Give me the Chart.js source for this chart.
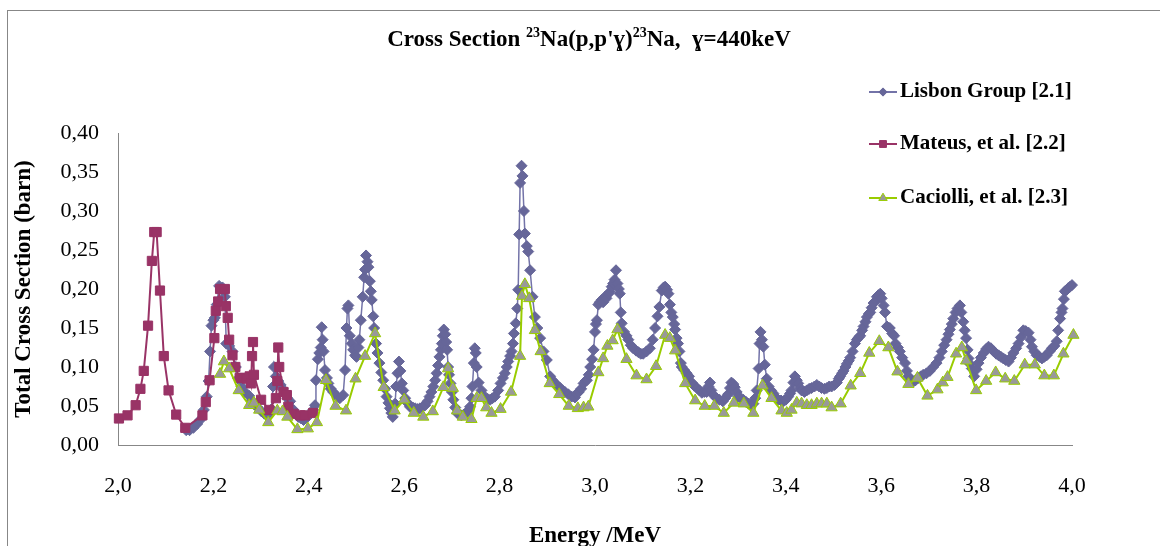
<!DOCTYPE html>
<html>
<head>
<meta charset="utf-8">
<script src="https://cdn.jsdelivr.net/npm/chart.js@4/dist/chart.umd.min.js"></script>
<style>
  html, body { margin: 0; padding: 0; background: #fff; overflow: hidden; }
  #wrap { position: relative; width: 1160px; height: 546px; overflow: hidden; }
  #frame { position: absolute; left: 7px; top: 10px; width: 1200px; height: 600px; border: 1px solid #878787; pointer-events: none; }
  canvas { position: absolute; left: 0; top: 0; }
</style>
</head>
<body>
<div id="wrap">
  <canvas id="myChart" width="1160" height="546"></canvas>
  <div id="frame"></div>
</div>
<script>
// energy (MeV), cross section (barn)
const lisbon = [
  [2.143,0.019],[2.150,0.019],[2.158,0.022],[2.166,0.027],[2.172,0.032],[2.180,0.045],[2.186,0.062],
  [2.190,0.082],[2.193,0.120],[2.196,0.153],[2.200,0.160],[2.203,0.163],[2.207,0.180],[2.212,0.204],
  [2.216,0.200],[2.219,0.202],[2.224,0.190],[2.227,0.130],[2.233,0.127],[2.240,0.120],[2.247,0.100],
  [2.252,0.085],[2.259,0.075],[2.266,0.068],[2.275,0.063],[2.280,0.057],[2.286,0.052],[2.291,0.049],
  [2.301,0.043],[2.307,0.040],[2.312,0.038],[2.318,0.042],[2.322,0.046],[2.325,0.075],[2.327,0.100],
  [2.331,0.088],[2.336,0.082],[2.341,0.077],[2.345,0.072],[2.350,0.066],[2.355,0.060],[2.361,0.056],
  [2.368,0.045],[2.373,0.040],[2.378,0.036],[2.384,0.034],[2.389,0.032],[2.393,0.034],[2.397,0.036],
  [2.403,0.040],[2.409,0.045],[2.413,0.051],[2.415,0.083],[2.419,0.110],[2.422,0.118],[2.425,0.125],
  [2.427,0.151],[2.429,0.135],[2.431,0.120],[2.434,0.096],[2.438,0.086],[2.441,0.079],[2.446,0.072],
  [2.451,0.068],[2.458,0.063],[2.465,0.060],[2.472,0.064],[2.476,0.096],[2.479,0.150],[2.481,0.175],
  [2.483,0.179],[2.486,0.140],[2.490,0.130],[2.493,0.122],[2.497,0.115],[2.500,0.113],[2.504,0.125],
  [2.506,0.135],[2.509,0.160],[2.513,0.190],[2.516,0.215],[2.518,0.225],[2.520,0.243],[2.523,0.235],
  [2.525,0.228],[2.528,0.210],[2.530,0.197],[2.532,0.186],[2.535,0.165],[2.537,0.150],[2.541,0.130],
  [2.544,0.118],[2.548,0.105],[2.552,0.093],[2.556,0.083],[2.560,0.072],[2.563,0.062],[2.567,0.054],
  [2.570,0.047],[2.573,0.041],[2.576,0.036],[2.581,0.053],[2.583,0.075],[2.586,0.092],[2.589,0.107],
  [2.592,0.095],[2.595,0.079],[2.598,0.070],[2.602,0.060],[2.607,0.054],[2.612,0.049],[2.618,0.048],
  [2.623,0.047],[2.628,0.046],[2.633,0.047],[2.639,0.049],[2.644,0.051],[2.649,0.056],[2.653,0.062],
  [2.657,0.068],[2.661,0.075],[2.665,0.083],[2.668,0.092],[2.671,0.102],[2.674,0.113],[2.677,0.122],
  [2.679,0.130],[2.681,0.140],[2.683,0.148],[2.686,0.142],[2.688,0.132],[2.690,0.122],[2.692,0.100],
  [2.694,0.090],[2.697,0.079],[2.700,0.068],[2.703,0.058],[2.707,0.048],[2.711,0.041],[2.716,0.039],
  [2.720,0.038],[2.725,0.039],[2.730,0.041],[2.734,0.044],[2.738,0.049],[2.741,0.060],[2.743,0.075],
  [2.746,0.105],[2.748,0.124],[2.750,0.118],[2.752,0.100],[2.756,0.080],[2.762,0.070],[2.769,0.062],
  [2.775,0.059],[2.780,0.058],[2.785,0.060],[2.790,0.062],[2.797,0.070],[2.802,0.079],[2.807,0.086],
  [2.811,0.092],[2.815,0.100],[2.818,0.107],[2.822,0.114],[2.825,0.120],[2.828,0.130],[2.830,0.143],
  [2.834,0.156],[2.837,0.175],[2.839,0.199],[2.841,0.270],[2.843,0.336],[2.846,0.358],[2.848,0.345],
  [2.851,0.300],[2.853,0.271],[2.857,0.255],[2.860,0.248],[2.864,0.224],[2.869,0.190],[2.874,0.164],
  [2.879,0.150],[2.885,0.137],[2.892,0.120],[2.899,0.109],[2.906,0.088],[2.911,0.083],[2.916,0.079],
  [2.922,0.076],[2.927,0.073],[2.932,0.070],[2.937,0.068],[2.944,0.065],[2.951,0.062],[2.958,0.061],
  [2.962,0.066],[2.966,0.068],[2.971,0.072],[2.976,0.079],[2.980,0.082],[2.983,0.083],[2.987,0.090],
  [2.990,0.100],[2.994,0.110],[2.997,0.122],[3.000,0.145],[3.002,0.155],[3.004,0.160],[3.007,0.180],
  [3.010,0.183],[3.014,0.186],[3.017,0.183],[3.021,0.190],[3.024,0.188],[3.028,0.194],[3.031,0.196],
  [3.035,0.203],[3.038,0.207],[3.041,0.212],[3.044,0.224],[3.047,0.207],[3.050,0.200],[3.052,0.194],
  [3.054,0.170],[3.056,0.156],[3.061,0.145],[3.066,0.140],[3.070,0.135],[3.075,0.128],[3.080,0.124],
  [3.086,0.121],[3.091,0.119],[3.096,0.117],[3.101,0.117],[3.108,0.120],[3.115,0.124],[3.121,0.135],
  [3.126,0.150],[3.131,0.165],[3.135,0.177],[3.140,0.198],[3.144,0.202],[3.147,0.203],[3.151,0.199],
  [3.154,0.194],[3.157,0.180],[3.160,0.170],[3.163,0.164],[3.166,0.155],[3.168,0.148],[3.171,0.137],
  [3.174,0.130],[3.177,0.120],[3.180,0.105],[3.182,0.100],[3.187,0.096],[3.192,0.092],[3.197,0.088],
  [3.203,0.080],[3.208,0.076],[3.214,0.073],[3.219,0.070],[3.224,0.067],[3.229,0.068],[3.234,0.068],
  [3.238,0.075],[3.241,0.080],[3.244,0.070],[3.248,0.064],[3.255,0.060],[3.261,0.058],[3.268,0.056],
  [3.273,0.060],[3.279,0.065],[3.283,0.073],[3.286,0.080],[3.290,0.078],[3.293,0.074],[3.297,0.068],
  [3.300,0.062],[3.306,0.060],[3.311,0.058],[3.317,0.055],[3.322,0.053],[3.327,0.052],[3.332,0.053],
  [3.336,0.060],[3.339,0.070],[3.343,0.098],[3.345,0.130],[3.347,0.145],[3.350,0.135],[3.353,0.126],
  [3.356,0.103],[3.360,0.085],[3.364,0.075],[3.369,0.070],[3.374,0.066],[3.379,0.061],[3.384,0.058],
  [3.390,0.057],[3.395,0.056],[3.400,0.058],[3.405,0.062],[3.409,0.066],[3.412,0.070],[3.416,0.080],
  [3.419,0.088],[3.423,0.083],[3.426,0.079],[3.430,0.073],[3.433,0.070],[3.439,0.068],[3.444,0.070],
  [3.449,0.072],[3.454,0.073],[3.460,0.075],[3.465,0.077],[3.470,0.075],[3.475,0.073],[3.481,0.072],
  [3.486,0.073],[3.491,0.075],[3.496,0.075],[3.502,0.077],[3.507,0.080],[3.511,0.085],[3.514,0.088],
  [3.518,0.092],[3.521,0.095],[3.525,0.100],[3.528,0.104],[3.532,0.108],[3.535,0.112],[3.540,0.120],
  [3.545,0.130],[3.549,0.135],[3.553,0.138],[3.556,0.140],[3.560,0.147],[3.563,0.152],[3.567,0.158],
  [3.570,0.164],[3.574,0.168],[3.577,0.170],[3.580,0.176],[3.584,0.182],[3.587,0.184],[3.591,0.190],
  [3.594,0.192],[3.598,0.194],[3.601,0.188],[3.605,0.179],[3.608,0.170],[3.612,0.152],[3.618,0.150],
  [3.623,0.143],[3.627,0.140],[3.630,0.130],[3.635,0.125],[3.639,0.120],[3.644,0.112],[3.650,0.105],
  [3.654,0.095],[3.657,0.088],[3.662,0.084],[3.667,0.081],[3.672,0.083],[3.678,0.086],[3.683,0.088],
  [3.688,0.090],[3.695,0.092],[3.702,0.095],[3.709,0.100],[3.716,0.105],[3.722,0.112],[3.727,0.120],
  [3.732,0.128],[3.737,0.135],[3.741,0.142],[3.744,0.148],[3.748,0.155],[3.751,0.162],[3.756,0.170],
  [3.760,0.175],[3.765,0.179],[3.768,0.170],[3.772,0.158],[3.775,0.147],[3.778,0.137],[3.781,0.122],
  [3.783,0.111],[3.786,0.104],[3.790,0.098],[3.795,0.088],[3.800,0.097],[3.804,0.105],[3.809,0.112],
  [3.815,0.118],[3.820,0.123],[3.825,0.126],[3.830,0.124],[3.836,0.120],[3.841,0.117],[3.846,0.115],
  [3.851,0.113],[3.856,0.111],[3.861,0.109],[3.867,0.107],[3.872,0.112],[3.877,0.118],[3.883,0.124],
  [3.888,0.130],[3.893,0.138],[3.898,0.147],[3.903,0.146],[3.909,0.144],[3.913,0.135],[3.916,0.126],
  [3.921,0.120],[3.926,0.115],[3.932,0.113],[3.937,0.111],[3.942,0.113],[3.947,0.115],[3.953,0.120],
  [3.958,0.124],[3.963,0.127],[3.968,0.133],[3.971,0.147],[3.975,0.162],[3.978,0.170],[3.980,0.175],
  [3.983,0.187],[3.985,0.197],[3.989,0.199],[3.992,0.201],[3.996,0.203],[4.000,0.205],[4.008,0.207]
];

const mateus = [
  [2.002,0.034],[2.020,0.038],[2.037,0.051],[2.047,0.072],[2.054,0.095],[2.063,0.153],[2.071,0.236],
  [2.076,0.273],[2.081,0.273],[2.088,0.198],[2.096,0.114],[2.106,0.070],[2.122,0.039],[2.141,0.022],
  [2.177,0.038],[2.184,0.055],[2.192,0.083],[2.202,0.137],[2.205,0.172],[2.210,0.184],[2.214,0.200],
  [2.224,0.200],[2.226,0.178],[2.230,0.163],[2.233,0.135],[2.240,0.115],[2.246,0.100],[2.255,0.086],
  [2.263,0.086],[2.270,0.085],[2.276,0.088],[2.279,0.079],[2.281,0.114],[2.283,0.132],[2.285,0.090],
  [2.300,0.058],[2.317,0.045],[2.331,0.060],[2.334,0.082],[2.336,0.125],[2.338,0.100],[2.347,0.068],
  [2.354,0.064],[2.357,0.049],[2.368,0.040],[2.382,0.038],[2.392,0.038],[2.409,0.041]
];

const caciolli = [
  [2.214,0.091],[2.222,0.107],[2.233,0.098],[2.253,0.070],[2.275,0.051],[2.285,0.054],[2.296,0.045],
  [2.315,0.029],[2.334,0.044],[2.345,0.043],[2.355,0.036],[2.376,0.020],[2.398,0.021],[2.417,0.029],
  [2.436,0.083],[2.456,0.050],[2.478,0.044],[2.498,0.085],[2.518,0.114],[2.539,0.143],[2.557,0.074],
  [2.580,0.044],[2.600,0.058],[2.620,0.041],[2.640,0.036],[2.660,0.043],[2.682,0.074],[2.692,0.098],
  [2.702,0.073],[2.711,0.044],[2.723,0.036],[2.741,0.033],[2.752,0.060],[2.762,0.060],[2.772,0.048],
  [2.783,0.041],[2.802,0.046],[2.824,0.068],[2.843,0.114],[2.847,0.191],[2.853,0.206],[2.862,0.188],
  [2.874,0.147],[2.886,0.120],[2.905,0.079],[2.925,0.065],[2.945,0.050],[2.964,0.047],[2.976,0.048],
  [2.986,0.049],[3.007,0.093],[3.017,0.111],[3.026,0.127],[3.037,0.134],[3.047,0.148],[3.066,0.110],
  [3.087,0.089],[3.108,0.084],[3.128,0.101],[3.147,0.141],[3.157,0.137],[3.168,0.121],[3.189,0.079],
  [3.210,0.057],[3.230,0.050],[3.250,0.050],[3.270,0.041],[3.291,0.054],[3.312,0.053],[3.332,0.041],
  [3.351,0.076],[3.370,0.060],[3.391,0.044],[3.402,0.041],[3.412,0.045],[3.423,0.054],[3.433,0.053],
  [3.444,0.051],[3.454,0.051],[3.465,0.053],[3.475,0.053],[3.486,0.053],[3.496,0.048],[3.515,0.053],
  [3.536,0.076],[3.556,0.092],[3.575,0.118],[3.596,0.133],[3.615,0.125],[3.634,0.094],[3.657,0.078],
  [3.676,0.086],[3.697,0.063],[3.718,0.071],[3.729,0.080],[3.739,0.087],[3.757,0.117],[3.769,0.125],
  [3.778,0.108],[3.799,0.070],[3.820,0.082],[3.840,0.093],[3.860,0.085],[3.879,0.082],[3.901,0.103],
  [3.922,0.103],[3.942,0.089],[3.962,0.089],[3.982,0.117],[4.003,0.141],[4.013,0.146]
];

const seriesNames = ['Lisbon Group [2.1]', 'Mateus, et al. [2.2]', 'Caciolli, et al. [2.3]'];
const xTicks = [2.0, 2.2, 2.4, 2.6, 2.8, 3.0, 3.2, 3.4, 3.6, 3.8, 4.0];
const yTicks = [0, 0.05, 0.10, 0.15, 0.20, 0.25, 0.30, 0.35, 0.40];

const serif = "'Liberation Serif', 'Times New Roman', serif";
const toXY = arr => arr.map(p => ({ x: p[0], y: p[1] }));

// title with superscripts
const titlePlugin = {
  id: 'fancyTitle',
  afterDraw(chart) {
    const ctx = chart.ctx;
    const parts = [
      { t: 'Cross Section ', sup: false },
      { t: '23', sup: true },
      { t: "Na(p,p'\u0263)", sup: false },
      { t: '23', sup: true },
      { t: 'Na,  \u0263=440keV', sup: false }
    ];
    const big = 'bold 23px ' + serif, small = 'bold 14px ' + serif;
    ctx.save();
    ctx.fillStyle = '#000';
    ctx.textBaseline = 'alphabetic';
    let w = 0;
    parts.forEach(p => { ctx.font = p.sup ? small : big; p.w = ctx.measureText(p.t).width; w += p.w; });
    let x = 589 - w / 2;
    parts.forEach(p => {
      ctx.font = p.sup ? small : big;
      ctx.fillText(p.t, x, p.sup ? 37 : 46);
      x += p.w;
    });
    ctx.restore();
  }
};

// legend floating at top right like the original
const legendPlugin = {
  id: 'floatLegend',
  afterDraw(chart) {
    const ctx = chart.ctx;
    const rows = [92, 144, 198];
    chart.data.datasets.forEach((ds, i) => {
      const y = rows[i];
      ctx.save();
      ctx.strokeStyle = ds.borderColor;
      ctx.lineWidth = 2;
      ctx.beginPath();
      ctx.moveTo(869, y);
      ctx.lineTo(897, y);
      ctx.stroke();
      ctx.fillStyle = ds.pointBackgroundColor;
      ctx.strokeStyle = ds.pointBorderColor;
      ctx.lineWidth = ds.pointBorderWidth;
      Chart.helpers.drawPoint(ctx, {
        pointStyle: ds.pointStyle,
        radius: ds.pointRadius * 0.75,
        borderWidth: ds.pointBorderWidth,
        rotation: 0
      }, 883, y);
      ctx.fillStyle = '#000';
      ctx.font = 'bold 21px ' + serif;
      ctx.textBaseline = 'middle';
      ctx.textAlign = 'left';
      ctx.fillText(seriesNames[i], 900, y);
      ctx.restore();
    });
  }
};

const ctx = document.getElementById('myChart');
const myChart = new Chart(ctx, {
  type: 'line',
  data: {
    datasets: [{
      label: seriesNames[0],
      data: toXY(lisbon),
      borderColor: '#7373a8',
      borderWidth: 1.5,
      pointStyle: 'rectRot',
      pointRadius: 5.5,
      pointBackgroundColor: '#666699',
      pointBorderColor: '#666699',
      pointBorderWidth: 1,
      order: 3,
      clip: false
    }, {
      label: seriesNames[1],
      data: toXY(mateus),
      borderColor: '#993366',
      borderWidth: 2,
      pointStyle: 'rect',
      pointRadius: 6.5,
      pointBackgroundColor: '#993366',
      pointBorderColor: '#993366',
      pointBorderWidth: 1,
      order: 2,
      clip: false
    }, {
      label: seriesNames[2],
      data: toXY(caciolli),
      borderColor: '#99cc00',
      borderWidth: 2,
      pointStyle: 'triangle',
      pointRadius: 6.5,
      pointBackgroundColor: '#999999',
      pointBorderColor: '#99cc00',
      pointBorderWidth: 1,
      order: 1,
      clip: false
    }]
  },
  options: {
    responsive: false,
    animation: false,
    events: [],
    layout: { padding: { top: 133, right: 88, left: 0, bottom: 0 } },
    elements: { line: { tension: 0 } },
    scales: {
      x: {
        type: 'linear',
        position: 'bottom',
        min: 2, max: 4,
        afterBuildTicks: s => { s.ticks = xTicks.map(v => ({ value: v })); },
        afterFit: s => { s.height = 101; },
        grid: { display: false },
        border: { display: true, color: '#878787', width: 1 },
        ticks: {
          padding: 20,
          color: '#000',
          font: { family: serif, size: 22 },
          callback: v => v.toFixed(1).replace('.', ',')
        },
        title: {
          display: true,
          text: 'Energy /MeV',
          color: '#000',
          font: { family: serif, size: 23, weight: 'bold', lineHeight: 0.9 },
          padding: { top: 0, bottom: 0 }
        }
      },
      y: {
        min: 0, max: 0.4,
        afterBuildTicks: s => { s.ticks = yTicks.map(v => ({ value: v })); },
        afterFit: s => { s.width = 118; },
        grid: { display: false },
        border: { display: true, color: '#878787', width: 1 },
        ticks: {
          padding: 11,
          color: '#000',
          font: { family: serif, size: 22 },
          callback: v => v.toFixed(2).replace('.', ',')
        },
        title: {
          display: true,
          text: 'Total Cross Section (barn)',
          color: '#000',
          font: { family: serif, size: 23, weight: 'bold' },
          padding: { top: 10, bottom: 0 }
        }
      }
    },
    plugins: {
      legend: { display: false },
      tooltip: { enabled: false }
    }
  },
  plugins: [titlePlugin, legendPlugin]
});
</script>
</body>
</html>
